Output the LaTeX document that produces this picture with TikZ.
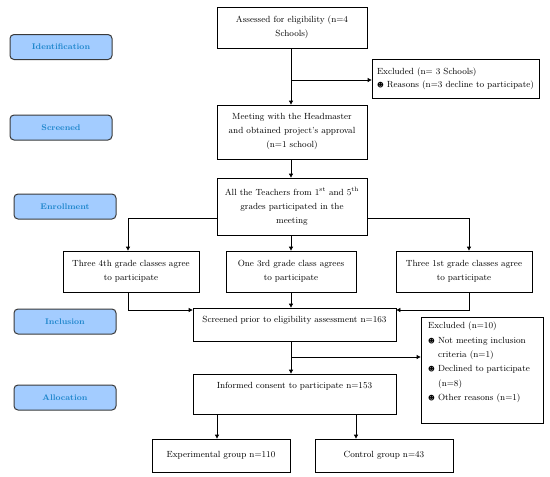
\documentclass[tikz,border=0pt]{standalone}
\usepackage{fontspec}
\newfontfamily\symfont{DejaVu Sans}
\usetikzlibrary{arrows.meta,calc}
\definecolor{stagefill}{HTML}{A3CCFF}
\definecolor{stagetext}{HTML}{1E86CC}
\definecolor{stageline}{HTML}{3A3A3A}
\newcommand{\bulsym}{{\symfont\fontsize{6.5}{6.5}\selectfont ☻}}
\begin{document}
\begin{tikzpicture}[x=1pt,y=-1pt,
  box/.style={draw=black, line width=0.8pt, fill=white, align=center, inner sep=0pt, font=\fontsize{8.9}{14}\selectfont},
  boxtext/.style={align=center, inner sep=0pt, font=\fontsize{8.9}{14}\selectfont},
  stage/.style={draw=stageline, line width=1pt, fill=stagefill, rounded corners=4pt, minimum width=102pt, minimum height=25pt, inner sep=0pt, font=\fontsize{8.2}{9}\selectfont\bfseries, text=stagetext},
  arr/.style={draw=black, line width=0.8pt, -{Triangle[length=4pt,width=4pt]}}]
\useasboundingbox (0,0) rectangle (550,477);

% stage labels
\node[stage] (sident) at (61,47) {Identification};
\node[stage] (sscreen) at (61,127.5) {Screened};
\node[stage] (senrol) at (65,206.5) {Enrollment};
\node[stage] (sincl) at (65,321.5) {Inclusion};
\node[stage] (salloc) at (65,397.5) {Allocation};

% main boxes
\node[box, minimum width=150pt, minimum height=41pt] (ass) at (292,27.5) {Assessed for eligibility (n=4\\Schools)};
\node[box, minimum width=167pt, minimum height=39pt, align=left] (exc1) at (455.5,78.5) {Excluded (n= 3 Schools)\\[-1pt]\bulsym\ Reasons (n=3 decline to participate)};
\node[box, minimum width=150pt, minimum height=54pt] (meet) at (292,132) {Meeting with the Headmaster\\and obtained project's approval\\(n=1 school)};
\node[box, minimum width=150pt, minimum height=57pt] (teach) at (292,206.5) {All the Teachers from 1\textsuperscript{st} and 5\textsuperscript{th}\\grades participated in the\\meeting};
\node[box, minimum width=136pt, minimum height=41pt] (c4) at (131,271.5) {Three 4th grade classes agree\\to participate};
\node[box, minimum width=130pt, minimum height=41pt] (c3) at (291,271.5) {One 3rd grade class agrees\\to participate};
\node[box, minimum width=136pt, minimum height=41pt] (c1) at (464,271.5) {Three 1st grade classes agree\\to participate};
\node[box, minimum width=203pt, minimum height=33pt] (scr) at (294.5,324.5) {};
\node[boxtext, anchor=base] (scrt) at (294.5,322) {Screened prior to eligibility assessment n=163};
\node[box, minimum width=122pt, minimum height=106pt] (exc2) at (482,370) {};
\node[boxtext, anchor=north west, align=left, font=\fontsize{8.9}{14.3}\selectfont] (exc2t) at (428,322) {Excluded (n=10)\\\bulsym\ Not meeting inclusion\\\hspace*{10pt}criteria (n=1)\\\bulsym\ Declined to participate\\\hspace*{10pt}(n=8)\\\bulsym\ Other reasons (n=1)};
\node[box, minimum width=203pt, minimum height=40pt] (inf) at (294.5,394) {};
\node[boxtext, anchor=base] (inft) at (294.5,388) {Informed consent to participate n=153};
\node[box, minimum width=138pt, minimum height=33pt] (exp) at (221,455.5) {Experimental group n=110};
\node[box, minimum width=138pt, minimum height=33pt] (ctl) at (384,455.5) {Control group n=43};

% junction points
\coordinate (j1) at (291,80);
\coordinate (j2) at (291,357);
\coordinate (tl) at (217,218);
\coordinate (tr) at (367,218);

% connectors
\draw[arr] (ass.south -| j1) -- (meet.north -| j1);
\draw[arr] (j1) -- (exc1.west |- j1);
\draw[arr] (meet.south -| j1) -- (teach.north -| j1);
\draw[arr] (tl) -| (c4.north -| 128,0);
\draw[arr] (tr) -| (c1.north -| 469,0);
\draw[arr] (teach.south -| j1) -- (c3.north -| j1);
\draw[arr] (c4.south -| 128,0) |- (scr.west |- 0,310);
\draw[arr] (c1.south -| 469,0) |- (scr.east |- 0,310);
\draw[arr] (c3.south -| j1) -- (scr.north -| j1);
\draw[arr] (scr.south -| j2) -- (inf.north -| j2);
\draw[arr] (j2) -- (exc2.west |- j2);
\draw[arr] (inf.south -| 217,0) -- (exp.north -| 217,0);
\draw[arr] (inf.south -| 356,0) -- (ctl.north -| 356,0);
\end{tikzpicture}
\end{document}
